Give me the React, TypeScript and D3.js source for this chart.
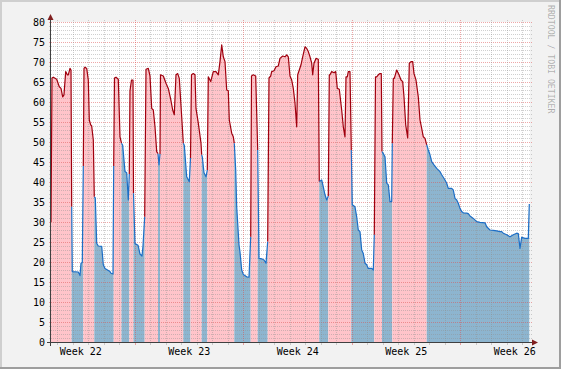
import React from "react";
import * as d3 from "d3";

// Time unit: days since Monday 00:00 of Week 22
const startDay = 1.581;
const endDay = 32.484;
const weekStarts = [0, 7, 14, 21, 28];
const weekLabels = ["Week 22", "Week 23", "Week 24", "Week 25", "Week 26"];
const yMax = 80;
const yMajorStep = 5;
const watermark = "RRDTOOL / TOBI OETIKER";

const times = [
  1.581, 1.645, 1.729, 1.948, 2.116, 2.226, 2.335, 2.419, 2.529, 2.632, 2.697, 2.806, 2.871, 2.916,
  2.955, 3.342, 3.452, 3.516, 3.6, 3.665,
  3.71, 3.774, 3.884, 3.987, 4.052, 4.142, 4.206, 4.31, 4.374,
  4.439, 4.529, 4.632, 4.852, 4.955, 5.065, 5.387, 5.452, 5.581, 5.626,
  5.677, 5.774, 5.923, 6.032, 6.129,
  6.206, 6.355, 6.465, 6.568, 6.632,
  6.677, 6.774, 6.871, 6.903,
  7.0, 7.194, 7.323, 7.452, 7.516, 7.626,
  7.71, 7.858, 7.968, 8.077, 8.181, 8.29, 8.4, 8.484,
  8.548, 8.613,
  8.645, 8.826, 9.0, 9.148, 9.303, 9.432, 9.535, 9.645, 9.755, 9.858, 10.013, 10.116,
  10.181, 10.335, 10.503, 10.581,
  10.645, 10.761, 10.871, 10.935, 11.084, 11.258, 11.303,
  11.342, 11.452, 11.581, 11.665,
  11.729, 11.884, 12.052, 12.226, 12.374, 12.484, 12.594, 12.697, 12.806, 12.916, 13.019, 13.084, 13.239, 13.342, 13.406,
  13.497, 13.561, 13.71, 13.774, 13.884, 13.987, 14.206, 14.355, 14.465,
  14.516, 14.632, 14.787, 14.916,
  15.0, 15.174, 15.323, 15.452, 15.561,
  15.645, 15.755, 15.819, 15.968, 16.097, 16.245, 16.355, 16.529, 16.677, 16.787, 16.89, 17.0, 17.11, 17.213, 17.323,
  17.432, 17.497, 17.6, 17.71, 17.819, 17.968, 18.077, 18.181, 18.29, 18.4, 18.465, 18.548, 18.677, 18.826, 18.89,
  19.045, 19.148, 19.258, 19.368, 19.471,
  19.535, 19.581, 19.69, 19.839, 19.948, 20.052, 20.181, 20.335, 20.439, 20.548, 20.613, 20.697, 20.761, 20.871, 20.955,
  21.019, 21.194, 21.303, 21.406, 21.516, 21.626, 21.729, 21.839, 21.948, 22.052, 22.271, 22.374, 22.439,
  22.516, 22.594, 22.697, 22.806, 22.89, 22.935,
  23.019, 23.129, 23.239, 23.342, 23.452, 23.561, 23.6,
  23.665, 23.729, 23.884, 24.032, 24.161, 24.271, 24.355, 24.465, 24.594, 24.697, 24.806, 24.916, 25.0, 25.129, 25.277,
  25.387, 25.497, 25.6, 25.71, 25.819,
  25.923, 26.032, 26.142, 26.29, 26.465, 26.677, 26.787, 27.0, 27.11, 27.213, 27.432, 27.535, 27.645, 27.755, 27.858,
  27.968, 28.077, 28.181, 28.4, 28.503, 28.613, 28.826, 29.045, 29.258, 29.581, 29.69, 29.903, 30.116, 30.335, 30.548,
  30.658, 30.761, 30.981, 31.194, 31.406, 31.626, 31.729, 31.839, 31.948, 32.161, 32.374, 32.439,
];

const values = [
  30, 66, 66.2, 65.7, 63.8, 63.4, 61.3, 61.8, 67.6, 66.8, 66.8, 68.4, 68, 33.8,
  17.6, 17.5, 16.6, 19.7, 19.9, 44,
  68.4, 68.7, 68.4, 65.5, 55.5, 54.3, 54, 50.5, 36.3,
  36, 24.7, 24, 23.9, 19.3, 18.4, 17.6, 17.2, 17, 44,
  66, 66.2, 65.7, 51.3, 49.7,
  49.2, 42.6, 42.3, 35.5, 42,
  62.8, 65.5, 65.5, 37.2,
  24.6, 24.2, 22, 21.5, 24, 31.3,
  68.2, 68.4, 66.5, 58.4, 58, 53.8, 47.6, 47.1,
  44.3, 47,
  66.8, 66.5, 64.7, 63.4, 60.7, 58, 56.8, 66.8, 67.1, 65.9, 56.3, 49.7,
  49.2, 41.3, 40.1, 46,
  66.8, 67.1, 66.8, 58.4, 54.7, 49.7, 46.8,
  46.3, 42.3, 41.3, 43,
  66.3, 65.1, 67.6, 67.6, 66.8, 70.1, 74.3, 71.3, 70.1, 63, 62.8, 55.5, 52.2, 51.3, 49.7,
  43, 33.8, 24.3, 22.5, 18, 16.9, 16.3, 16.2, 26.3,
  66.5, 66.8, 66.5, 48,
  20.9, 20.8, 20.5, 19.7, 25.1,
  66, 66.5, 67.6, 67.8, 68.8, 69, 70.9, 71.5, 71.3, 71.8, 71.3, 66.5, 65.5, 63.4, 59.7,
  53.8, 66.8, 68, 69.3, 71.3, 73.8, 73.4, 72.6, 71.3, 69.7, 66.8, 69.7, 70.9, 70.7, 40.1,
  40.5, 38.8, 36.8, 35.5, 36.5,
  66.8, 66.8, 67.6, 67.3, 67.6, 63.4, 63.2, 58, 53.8, 51.3, 66.3, 66.3, 67.6, 67.6, 48,
  34.3, 33.8, 31.3, 28, 27.6, 23, 22.1, 19.7, 19.3, 18.4, 18.4, 18, 26.8,
  66.3, 66.3, 66.8, 67.1, 67.1, 47.6,
  47.1, 46.3, 39.7, 39.3, 35.1, 35.1, 49.7,
  65.9, 65.9, 68, 66.8, 65.5, 65.1, 61.3, 54.3, 51, 69.7, 70.1, 70.1, 67.1, 65.5, 61.3,
  55.5, 53.4, 51.3, 50.9, 49.3,
  48, 46.8, 45.1, 44.3, 43.4, 42.6, 41.8, 40.5, 39.7, 38.4, 38.4, 38, 35.9, 35.5, 34.7,
  33.4, 32.6, 32.3, 32.2, 32.1, 31.5, 30.9, 30.1, 29.9, 29.8, 28.8, 28, 27.9, 27.8, 27.6,
  27.6, 27.2, 26.8, 26.3, 26.8, 27.2, 27.1, 23.4, 26.2, 25.9, 25.9, 34.5,
];

// times at which the state flips (high -> low -> high ...), starting "high"
const switchTimes = [
  2.916, 3.665, 4.374, 5.626, 6.129, 6.632, 6.903, 7.626, 8.484, 8.613, 10.116, 10.581, 11.303,
  11.665, 13.406, 14.465, 14.916, 15.561, 18.89, 19.471, 20.955, 22.439, 22.935, 23.6, 25.819,
];

const W = 561;
const H = 369;
const X0 = 51;
const X1 = 530;
const YB = 342;
const YT = 22;

const COLORS = {
  back: "#F2F2F2",
  shadeA: "#CFCFCF",
  shadeB: "#9E9E9E",
  canvas: "#FFFFFF",
  grid: "rgba(143,143,143,0.42)",
  mgrid: "rgba(222,79,79,0.5)",
  axis: "#404040",
  arrow: "#801F1F",
  font: "#000000",
  hiArea: "#FFC4CA",
  hiLine: "#A0000E",
  loArea: "#8DB5CF",
  loLine: "#1C6EC6",
};

export default function App() {
  const x = d3.scaleLinear().domain([startDay, endDay]).range([X0, X1]);
  const y = d3.scaleLinear().domain([0, yMax]).range([YB, YT]);

  type Pt = [number, number];
  const runs: { high: boolean; pts: Pt[] }[] = [];
  times.forEach((t, i) => {
    const flips = switchTimes.filter((s) => s < t).length;
    const high = flips % 2 === 0;
    const last = runs[runs.length - 1];
    if (!last || last.high !== high) {
      const pts: Pt[] = last ? [last.pts[last.pts.length - 1]] : [];
      runs.push({ high, pts });
    }
    runs[runs.length - 1].pts.push([t, values[i]]);
  });

  const area = d3
    .area<Pt>()
    .x((d) => x(d[0]))
    .y0(y(0))
    .y1((d) => y(d[1]));
  const line = d3
    .line<Pt>()
    .x((d) => x(d[0]))
    .y((d) => y(d[1]));

  const yTicks = d3.range(0, yMax + 1, 1);
  const dayTicks = d3.range(Math.ceil(startDay), Math.floor(endDay) + 1);
  const font = "'DejaVu Sans Mono', monospace";

  return (
    <svg
      width={W}
      height={H}
      style={{ position: "absolute", left: 0, top: 0, display: "block" }}
      xmlns="http://www.w3.org/2000/svg"
    >
      <defs>
        <clipPath id="plotClip">
          <rect x={X0} y={YT} width={X1 - X0} height={YB - YT} />
        </clipPath>
      </defs>
      <rect x={0} y={0} width={W} height={H} fill={COLORS.back} />
      {/* frame shading */}
      <rect x={0} y={0} width={W} height={2} fill={COLORS.shadeA} />
      <rect x={0} y={0} width={2} height={H} fill={COLORS.shadeA} />
      <rect x={0} y={H - 2} width={W} height={2} fill={COLORS.shadeB} />
      <rect x={W - 2} y={0} width={2} height={H} fill={COLORS.shadeB} />
      <rect x={X0} y={YT} width={X1 - X0} height={YB - YT} fill={COLORS.canvas} />

      <g clipPath="url(#plotClip)">
        {runs.map((r, i) => (
          <path key={"a" + i} d={area(r.pts) || ""} fill={r.high ? COLORS.hiArea : COLORS.loArea} />
        ))}
      </g>

      {/* grid */}
      <g shapeRendering="crispEdges">
        {yTicks.map((v) => {
          const major = v % yMajorStep === 0;
          if (v === 0) return null;
          return (
            <line
              key={"h" + v}
              x1={X0 - 2}
              x2={X1 + 2}
              y1={Math.round(y(v)) + 0.5}
              y2={Math.round(y(v)) + 0.5}
              stroke={major ? COLORS.mgrid : COLORS.grid}
              strokeWidth={1}
              strokeDasharray="1,1"
            />
          );
        })}
        {dayTicks.map((d) => {
          const major = weekStarts.includes(d);
          const px = Math.round(x(d)) + 0.5;
          return (
            <g key={"v" + d}>
              <line
                x1={px}
                x2={px}
                y1={YT - 2}
                y2={YB}
                stroke={major ? COLORS.mgrid : COLORS.grid}
                strokeWidth={1}
                strokeDasharray="1,1"
              />
              <line
                x1={px}
                x2={px}
                y1={YB}
                y2={YB + 3}
                stroke={major ? COLORS.mgrid : COLORS.grid}
                strokeWidth={1}
              />
            </g>
          );
        })}
      </g>

      <g clipPath="url(#plotClip)">
        {runs.map((r, i) => (
          <path
            key={"l" + i}
            d={line(r.pts) || ""}
            fill="none"
            stroke={r.high ? COLORS.hiLine : COLORS.loLine}
            strokeWidth={1.2}
            strokeLinejoin="round"
          />
        ))}
      </g>

      {/* axes */}
      <line x1={X0 - 4} x2={X1 + 4} y1={YB + 0.5} y2={YB + 0.5} stroke={COLORS.axis} strokeWidth={1} />
      <line x1={X0 - 0.5} x2={X0 - 0.5} y1={YB + 4} y2={YT - 4} stroke={COLORS.axis} strokeWidth={1} />
      <polygon
        points={`${X1 + 2},${YB - 3 + 0.5} ${X1 + 2},${YB + 3 + 0.5} ${X1 + 8},${YB + 0.5}`}
        fill={COLORS.arrow}
      />
      <polygon
        points={`${X0 - 3.5},${YT - 2} ${X0 + 2.5},${YT - 2} ${X0 - 0.5},${YT - 8}`}
        fill={COLORS.arrow}
      />

      {/* y labels */}
      {yTicks
        .filter((v) => v % yMajorStep === 0)
        .map((v) => (
          <text
            key={"yl" + v}
            x={45}
            y={y(v) + 3.6}
            textAnchor="end"
            fontFamily={font}
            fontSize={10}
            fill={COLORS.font}
          >
            {v}
          </text>
        ))}

      {/* week labels */}
      {weekStarts.map((w, i) => (
        <text
          key={"wl" + i}
          x={x(w + 3.5)}
          y={355}
          textAnchor="middle"
          fontFamily={font}
          fontSize={10}
          fill={COLORS.font}
        >
          {weekLabels[i]}
        </text>
      ))}

      {/* watermark */}
      <text
        transform={`translate(548,5) rotate(90)`}
        fontFamily={font}
        fontSize={8.2}
        fill="rgba(0,0,0,0.3)"
      >
        {watermark}
      </text>
    </svg>
  );
}
